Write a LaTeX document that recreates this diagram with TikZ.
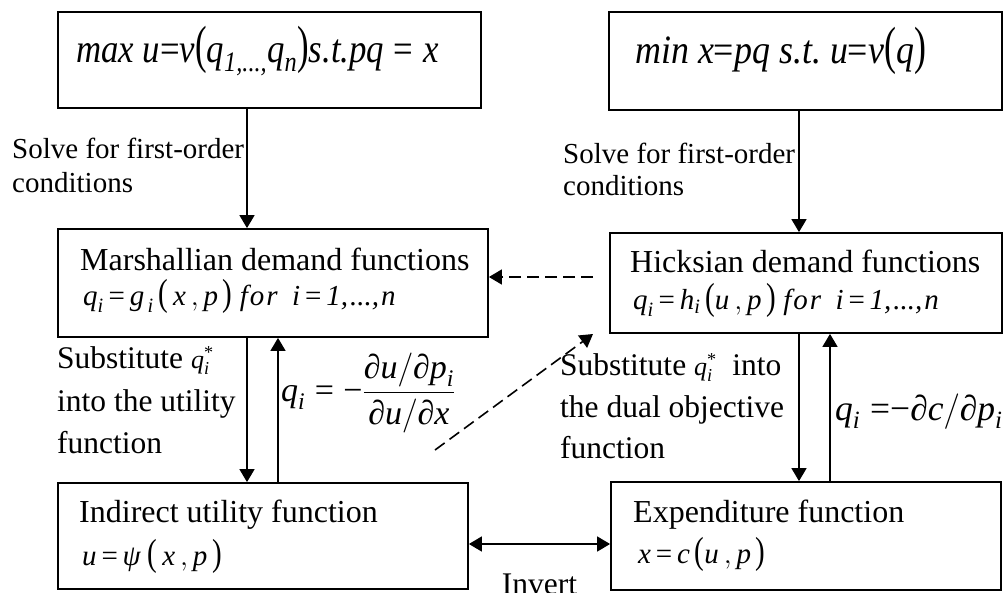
\RequirePackage{fix-cm}
\documentclass[tikz,border=0pt]{standalone}
\usepackage{amsmath}
\usepackage{fontspec}
\setmainfont{Liberation Serif}
\usetikzlibrary{arrows.meta}
\newcommand\vi[1]{\text{\itshape #1}}
\newcommand\vr[1]{\text{\upshape #1}}
\newcommand\lp{\text{\upshape\scalebox{1}[1.3]{(}}}
\newcommand\rp{\text{\upshape\scalebox{1}[1.3]{)}}}
\tikzset{
  box/.style={draw, line width=1.8pt, rectangle, inner sep=0pt},
  arr/.style={line width=1.6pt, -{Triangle[length=13pt,width=15pt]}},
  darr/.style={line width=1.6pt, {Triangle[length=13pt,width=15pt]}-{Triangle[length=13pt,width=15pt]}},
  dsh/.style={arr, dash pattern=on 12pt off 6pt},
  btxt/.style={anchor=base west, inner sep=0pt, font=\fontsize{32}{36}\selectfont},
  ftxt/.style={anchor=base west, inner sep=0pt, font=\fontsize{29}{32}\selectfont},
  lbl/.style={anchor=base west, inner sep=0pt, font=\fontsize{31.5}{36}\selectfont},
  sol/.style={anchor=base west, inner sep=0pt, font=\fontsize{29}{34}\selectfont},
  bigf/.style={anchor=base west, inner sep=0pt, font=\fontsize{38}{42}\selectfont},
  eqn/.style={anchor=base west, inner sep=0pt, font=\fontsize{34}{38}\selectfont},
}
\begin{document}
\begin{tikzpicture}[x=1pt,y=-1pt]
\useasboundingbox (0,0) rectangle (1004,592);
% boxes
\node[box, minimum width=423pt, minimum height=96pt] (P1) at (269.5,60) {};
\node[box, minimum width=393pt, minimum height=98pt] (P2) at (805.5,61) {};
\node[box, minimum width=430pt, minimum height=108pt] (M) at (273,283) {};
\node[box, minimum width=392pt, minimum height=100pt] (H) at (806,283) {};
\node[box, minimum width=410pt, minimum height=106pt] (V) at (263,536) {};
\node[box, minimum width=390pt, minimum height=108pt] (E) at (806,536) {};
% texts in boxes
\node[bigf] (t1) at (76,62) {\scalebox{0.915}[1.06]{$\vi{max}\ \vi{u}\vr{=}\vi{v}\lp\vi{q}_{\vi{1,...,}}\vi{q}_{\vi{n}}\rp\vi{s.t.pq}\;\vr{=}\;\vi{x}$}};
\node[bigf] (t2) at (635,63) {\scalebox{0.945}[1.06]{$\vi{min}\ \vi{x}\vr{=}\vi{pq}\ \vi{s.t.}\ \vi{u}\vr{=}\vi{v}\lp\vi{q}\rp$}};
\node[btxt] (m1) at (80,270) {Marshallian demand functions};
\node[ftxt] (m2) at (83,305) {$\vi{q}_{\vi{i}}\,\vr{=}\,\vi{g}_{\,\vi{i}}\,\lp\,\vi{x}\,, \vi{p}\,\rp\ \vi{f\kern2pt o\kern2pt r}\ \ \vi{i}\,\vr{=}\,\vi{1,\kern2pt...,\kern2pt n}$};
\node[btxt] (h1) at (630,272) {Hicksian demand functions};
\node[ftxt] (h2) at (633,309) {$\vi{q}_{\vi{i}}\,\vr{=}\,\vi{h}_{\vi{i}}\,\lp\vi{u}\,, \vi{p}\,\rp\ \vi{f\kern2pt o\kern2pt r}\ \ \vi{i}\,\vr{=}\,\vi{1,\kern2pt...,\kern2pt n}$};
\node[btxt] (v1) at (79,522) {Indirect utility function};
\node[ftxt] (v2) at (82,565) {$\vi{u}\,\vr{=}\,\vi{ψ}\ \lp\,\vi{x}\,, \vi{p}\,\rp$};
\node[btxt] (e1) at (633,522) {Expenditure function};
\node[ftxt] (e2) at (638,563) {$\vi{x}\,\vr{=}\,\vi{c}\,\lp\vi{u}\,, \vi{p}\,\rp$};
% labels
\node[sol] (s1a) at (12,158) {Solve for first-order};
\node[sol] (s1b) at (12,192) {conditions};
\node[sol] (s2a) at (563,163) {Solve for first-order};
\node[sol] (s2b) at (563,195) {conditions};
\node[lbl] (u1a) at (57,368) {Substitute\ {\fontsize{26}{26}\selectfont$\vi{q}^{\vr{*}}_{\vi{i}}$}};
\node[lbl] (u1b) at (57,411) {into the utility};
\node[lbl] (u1c) at (57,453) {function};
\node[lbl] (u2a) at (560,375) {Substitute\ {\fontsize{26}{26}\selectfont$\vi{q}^{\vr{*}}_{\vi{i}}$}\ \ into};
\node[lbl] (u2b) at (560,417) {the dual objective};
\node[lbl] (u2c) at (560,458) {function};
\node[eqn] (f1) at (281,401) {$\vi{q}_{\vi{i}}\;\vr{=}\;\vr{−}\dfrac{\vi{∂u}/\vi{∂p}_{\vi{i}}}{\vi{∂u}/\vi{∂x}}$};
\node[eqn, font=\fontsize{35.5}{38}\selectfont] (f2) at (835,420) {$\vi{q}_{\vi{i}}\;\vr{=}\vr{−}\vi{∂c}/\vi{∂p}_{\vi{i}}$};
\node[lbl, anchor=base] (inv) at (539.5,594) {Invert};
% helper coordinates
\coordinate (xl1) at (247,0);
\coordinate (xl2) at (278,0);
\coordinate (xr1) at (799,0);
\coordinate (xr2) at (830,0);
\coordinate (hdl) at (593,277);
\coordinate (ds) at (435,450);
\coordinate (dt) at (593,334);
\coordinate (yb) at (0,544);
% connectors
\draw[arr] (xl1 |- P1.south) -- (xl1 |- M.north);
\draw[arr] (xr1 |- P2.south) -- (xr1 |- H.north);
\draw[arr] (xl1 |- M.south) -- (xl1 |- V.north);
\draw[arr] (xl2 |- V.north) -- (xl2 |- M.south);
\draw[arr] (xr1 |- H.south) -- (xr1 |- E.north);
\draw[arr] (xr2 |- E.north) -- (xr2 |- H.south);
\draw[dsh] (hdl) -- (M.east |- hdl);
\draw[dsh] (ds) -- (dt);
\draw[darr] (V.east |- yb) -- (E.west |- yb);
\end{tikzpicture}
\end{document}
